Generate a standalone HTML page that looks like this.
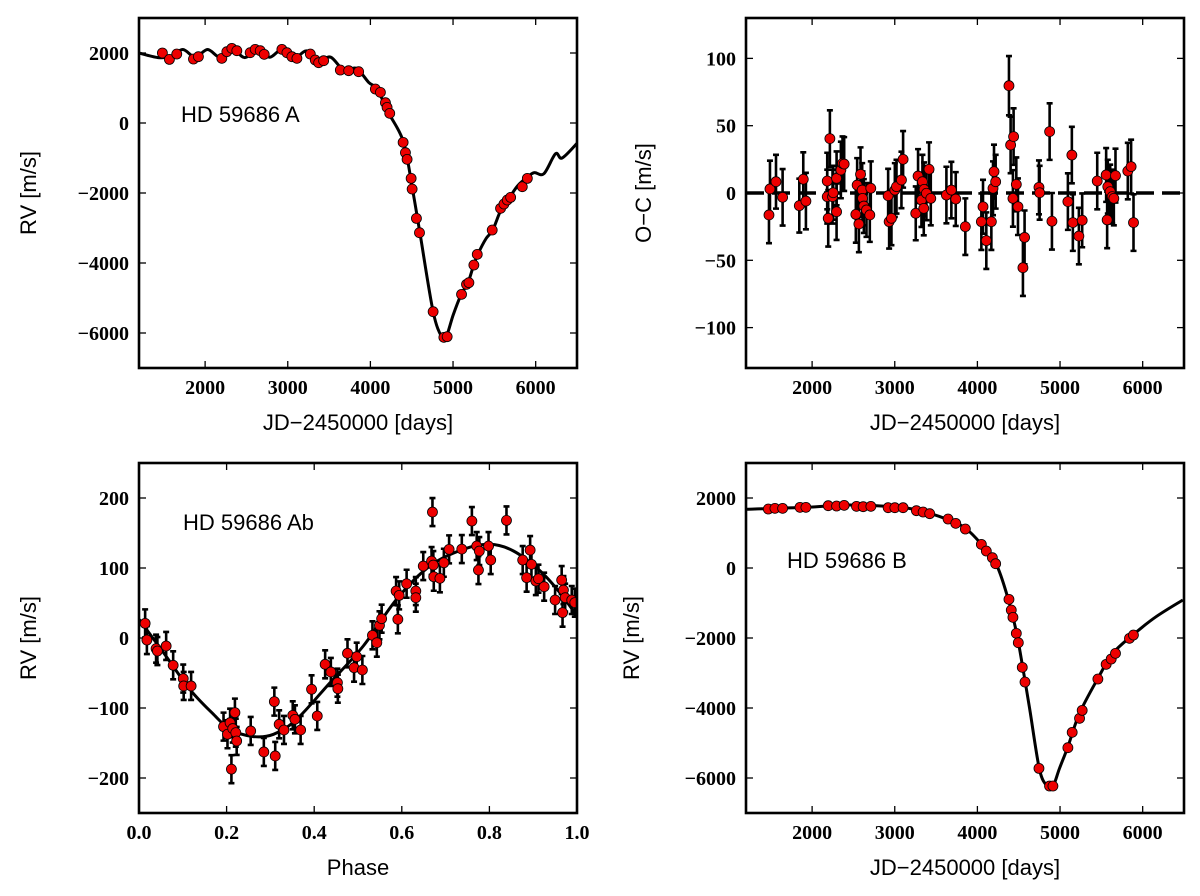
<!DOCTYPE html>
<html><head><meta charset="utf-8">
<style>
html,body{margin:0;padding:0;background:#fff;}
svg{display:block;}
.tick{font-family:"Liberation Serif",serif;font-size:20px;font-weight:bold;fill:#000;}
.lab{font-family:"Liberation Sans",sans-serif;font-size:22px;fill:#000;}
</style></head>
<body>
<svg id="fig" width="1200" height="896" viewBox="0 0 1200 896" xmlns="http://www.w3.org/2000/svg"></svg>
<script>
// ---- Panel A (top-left) ----
const aDays = [1483,1568,1657,1859,1919,2202,2263,2323,2384,2545,2606,2667,2715,2929,2990,3050,3111,3273,3333,3374,3434,3636,3737,3858,4060,4121,4182,4202,4234,4396,4424,4444,4493,4505,4557,4594,4759,4889,4929,5103,5163,5192,5252,5293,5474,5575,5616,5656,5697,5838,5899];
const aRV = [2000,1818,1971,1828,1895,1847,2038,2133,2066,2009,2104,2066,1961,2104,2009,1895,1847,1971,1799,1723,1780,1514,1495,1466,971,876,580,447,276,-553,-848,-1039,-1582,-1886,-2725,-3134,-5391,-6124,-6105,-4896,-4610,-4562,-4058,-3753,-3058,-2439,-2315,-2201,-2125,-1820,-1582];
const aModelX = [1200,1430,1580,1730,1880,2030,2180,2330,2480,2630,2780,2930,3080,3230,3380,3520,3680,3830,3980,4080,4220,4400,4510,4600,4760,4870,4920,5000,5100,5180,5250,5300,5400,5480,5580,5680,5780,5880,5980,6100,6240,6320,6500];
const aModelY = [2000,1870,1900,2100,1880,2100,1880,2110,1870,2110,1880,2100,1860,2060,1780,1880,1500,1560,1160,970,290,-540,-1890,-3150,-5400,-6140,-6100,-5500,-4890,-4570,-4060,-3750,-3300,-3060,-2480,-2140,-1800,-1580,-1420,-1450,-880,-1000,-580];
// ---- Panel O-C (top-right) ----
const ocDays = [1478,1490,1563,1643,1845,1893,1925,2183,2183,2195,2215,2247,2255,2296,2296,2348,2368,2388,2529,2545,2566,2586,2606,2610,2626,2658,2698,2710,2920,2932,2960,3001,3021,3081,3101,3254,3282,3323,3335,3351,3355,3383,3415,3436,3625,3685,3738,3854,4048,4068,4108,4169,4189,4201,4221,4382,4402,4430,4438,4471,4491,4551,4571,4745,4753,4874,4902,5095,5143,5155,5228,5268,5450,5558,5570,5578,5607,5631,5651,5671,5820,5860,5889];
const ocVal = [-16.3,3.0,8.4,-3.2,-9.4,10.2,-6.0,8.9,-2.7,-18.8,40.4,-2.7,0.2,10.9,-13.9,17.1,22.0,21.5,-15.9,5.9,-23.0,13.9,2.2,-4.0,-9.7,-12.6,-16.3,3.5,-2.0,-21.3,-18.8,2.2,4.7,9.7,25.0,-15.1,12.6,-5.2,8.4,-11.4,2.7,-0.2,17.6,-4.0,-1.5,2.2,-4.5,-25.0,-21.3,-10.2,-35.4,-21.3,3.5,15.9,8.4,79.7,35.7,-4.0,41.9,6.4,-10.2,-55.5,-33.0,4.2,0.2,45.6,-21.0,-6.4,28.2,-22.0,-32.0,-20.3,8.9,13.4,-20.0,4.7,1.0,-2.7,-4.0,12.9,16.3,19.6,-22.0];
const ocErr = [21,21,20,21,20,20,21,21,20,21,21,20,20,20,21,21,20,20,21,20,21,20,20,20,20,20,20,20,20,20,20,20,20,21,21,20,20,20,20,20,20,20,20,20,21,21,20,21,21,20,21,21,20,20,20,22,21,21,21,20,21,21,20,20,20,21,21,21,21,21,21,20,21,20,21,20,20,20,20,20,21,20,21];
// ---- Panel Ab phase (bottom-left) ----
const phX = [0.014,0.018,0.039,0.042,0.062,0.078,0.101,0.102,0.119,0.193,0.202,0.208,0.211,0.214,0.219,0.221,0.223,0.255,0.285,0.309,0.311,0.320,0.331,0.351,0.356,0.369,0.394,0.407,0.425,0.438,0.453,0.454,0.476,0.491,0.497,0.510,0.533,0.543,0.549,0.554,0.587,0.591,0.594,0.611,0.632,0.632,0.649,0.668,0.670,0.672,0.673,0.687,0.696,0.708,0.737,0.760,0.771,0.775,0.777,0.798,0.803,0.839,0.876,0.885,0.893,0.896,0.906,0.912,0.925,0.950,0.965,0.967,0.969,0.973,0.988,0.995];
const phY = [20.9,-2.9,-15.2,-18.6,-11.4,-39.0,-58.0,-68.5,-68.5,-126.6,-137.5,-121.0,-187.4,-129.4,-106.6,-135.2,-147.1,-132.8,-162.8,-90.9,-168.5,-123.3,-131.4,-110.5,-116.2,-131.4,-73.3,-111.4,-37.6,-48.5,-63.8,-72.4,-21.9,-42.4,-26.7,-45.7,3.8,-6.7,18.1,27.6,67.1,26.7,60.9,77.5,67.1,57.6,102.8,109.9,179.9,104.2,87.5,85.2,107.5,126.6,127.0,167.1,131.4,97.1,124.2,131.4,111.4,168.0,111.4,86.2,125.6,105.2,81.4,84.7,73.3,54.3,82.8,36.2,68.5,57.6,54.3,50.5];
const phErr = 20;
const phModelX = [0,0.056,0.116,0.170,0.208,0.261,0.307,0.360,0.436,0.512,0.588,0.664,0.740,0.801,0.855,0.916,0.961,1.0];
const phModelY = [26.7,-20.9,-73.3,-109,-130.4,-140.8,-137.5,-116.2,-63.8,-11.4,55.2,102.8,126.6,133.8,124.3,95.7,64.7,31.4];
// ---- Panel B (bottom-right) ----
const bDays = [1470,1550,1643,1853,1925,2195,2296,2388,2537,2618,2711,2920,3001,3101,3262,3343,3423,3645,3738,3854,4048,4108,4181,4221,4382,4410,4430,4471,4495,4543,4576,4745,4873,4914,5095,5147,5236,5268,5458,5558,5619,5671,5840,5888];
const bRV = [1685,1704,1704,1733,1733,1780,1771,1790,1761,1752,1761,1723,1723,1723,1638,1599,1552,1399,1276,1114,676,485,295,123,-896,-1201,-1410,-1867,-2134,-2839,-3258,-5725,-6229,-6229,-5134,-4696,-4296,-4068,-3172,-2753,-2600,-2439,-2010,-1915];
const bModelX = [1196,1933,2457,3061,3383,3706,3867,4028,4229,4370,4471,4551,4632,4753,4853,4914,4994,5095,5236,5458,5639,5881,6162,6485];
const bModelY = [1676,1733,1799,1733,1590,1323,1114,733,104,-867,-1820,-2867,-4010,-5772,-6248,-6248,-5725,-5105,-4153,-3153,-2439,-1915,-1391,-915];

// tick arrays
const dayTicks = [2000,3000,4000,5000,6000];
const rvTicks = [2000,0,-2000,-4000,-6000];
const ocTicks = [100,50,0,-50,-100];
const phTicksX = [0.0,0.2,0.4,0.6,0.8,1.0];
const phTicksY = [200,100,0,-100,-200];

const NS = 'http://www.w3.org/2000/svg';
const svg = document.getElementById('fig');
function mk(tag, attrs, parent){
  const e = document.createElementNS(NS, tag);
  for (const k in attrs) e.setAttribute(k, attrs[k]);
  (parent||svg).appendChild(e);
  return e;
}
function fmt(v){ const s = Number.isInteger(v) ? String(Math.abs(v)) : Math.abs(v).toFixed(1); return (v<0?'\u2212':'')+s; }
function panel(name, L, T, R, B, x0, x1, y0, y1, xt, yt, xlab, ylab, ylabX, phaseFmt){
  const g = mk('g', {});
  
  
  const sx = v => L + (v - x0) / (x1 - x0) * (R - L);
  const sy = v => B - (v - y0) / (y1 - y0) * (B - T);
  xt.forEach(v => {
    const x = sx(v);
    const t1 = mk('line', {x1:x, y1:B, x2:x, y2:B-7, stroke:'#000','stroke-width':1.3}, g);
    
    
    mk('line', {x1:x, y1:T, x2:x, y2:T+7, stroke:'#000','stroke-width':1.3}, g);
    const tx = mk('text', {x:x, y:B+26, 'text-anchor':'middle', class:'tick'}, g);
    
    
    tx.textContent = phaseFmt ? (v<0?'\u2212':'')+Math.abs(v).toFixed(1) : fmt(v);
  });
  yt.forEach(v => {
    const y = sy(v);
    const t1 = mk('line', {x1:L, y1:y, x2:L+7, y2:y, stroke:'#000','stroke-width':1.3}, g);
    
    
    mk('line', {x1:R, y1:y, x2:R-7, y2:y, stroke:'#000','stroke-width':1.3}, g);
    const tx = mk('text', {x:L-10, y:y+7, 'text-anchor':'end', class:'tick'}, g);
    
    
    tx.textContent = fmt(v);
  });
  const xl = mk('text', {x:(L+R)/2, y:B+62, 'text-anchor':'middle', class:'lab'}, g);
  
  
  xl.textContent = xlab;
  const yl = mk('text', {x:ylabX, y:(T+B)/2, 'text-anchor':'middle', class:'lab', transform:'rotate(-90 '+ylabX+' '+(T+B)/2+')'}, g);
  
  
  yl.textContent = ylab;
  const clip = mk('clipPath', {id:'clip-'+name}, g);
  mk('rect', {x:L, y:T, width:R-L, height:B-T}, clip);
  const plot = mk('g', {'clip-path':'url(#clip-'+name+')'}, g);
  
  
  return {g, plot, sx, sy, L, T, R, B};
}
function frame(p){
  const f = mk('rect', {x:p.L, y:p.T, width:p.R-p.L, height:p.B-p.T, fill:'none', stroke:'#000', 'stroke-width':2.6}, p.g);
  
  
}
function curve(p, xs, ys){
  const P = xs.map((x,i)=>[p.sx(x), p.sy(ys[i])]);
  let d = 'M'+P[0][0].toFixed(1)+' '+P[0][1].toFixed(1);
  for (let i=0;i<P.length-1;i++){
    const p0 = P[Math.max(0,i-1)], p1 = P[i], p2 = P[i+1], p3 = P[Math.min(P.length-1,i+2)];
    const c1 = [p1[0]+(p2[0]-p0[0])/6, p1[1]+(p2[1]-p0[1])/6];
    const c2 = [p2[0]-(p3[0]-p1[0])/6, p2[1]-(p3[1]-p1[1])/6];
    d += ` C${c1[0].toFixed(1)} ${c1[1].toFixed(1)} ${c2[0].toFixed(1)} ${c2[1].toFixed(1)} ${p2[0].toFixed(1)} ${p2[1].toFixed(1)}`;
  }
  const c = mk('path', {d:d, fill:'none', stroke:'#000', 'stroke-width':3, 'stroke-linejoin':'round'}, p.plot);
  
  
}
function errbars(p, xs, ys, errs){
  xs.forEach((x,i)=>{
    const e = Array.isArray(errs)?errs[i]:errs;
    const X = p.sx(x), y1 = p.sy(ys[i]+e), y2 = p.sy(ys[i]-e);
    const b = mk('path', {d:`M${X} ${y1} L${X} ${y2} M${X-3} ${y1} L${X+3} ${y1} M${X-3} ${y2} L${X+3} ${y2}`, stroke:'#000', 'stroke-width':2.6, fill:'none'}, p.plot);
    
    
  });
}
function points(p, xs, ys){
  xs.forEach((x,i)=>{
    const c = mk('circle', {cx:p.sx(x), cy:p.sy(ys[i]), r:5, fill:'#ee0000', stroke:'#000', 'stroke-width':0.8}, p.plot);
    
    
  });
}
function label(p, x, y, txt, name){
  const t = mk('text', {x:x, y:y, class:'lab'}, p.g);
  
  
  t.textContent = txt;
}

const pA = panel('panel-hd59686-a', 139, 18, 577, 368, 1200, 6500, -7000, 3000, dayTicks, rvTicks, 'JD\u22122450000 [days]', 'RV [m/s]', 36, false);
curve(pA, aModelX, aModelY);
points(pA, aDays, aRV);
label(pA, 181, 122, 'HD 59686 A', 'panel-label-a');
frame(pA);

const pC = panel('panel-o-minus-c', 746, 18, 1184, 368, 1200, 6500, -130, 130, dayTicks, ocTicks, 'JD\u22122450000 [days]', 'O\u2212C [m/s]', 651, false);
const zl = mk('line', {x1:746, y1:pC.sy(0), x2:1184, y2:pC.sy(0), stroke:'#000', 'stroke-width':3.5, 'stroke-dasharray':'18 8'}, pC.plot);


errbars(pC, ocDays, ocVal, ocErr);
points(pC, ocDays, ocVal);
frame(pC);

const pP = panel('panel-hd59686-ab', 139, 463, 577, 813, 0, 1, -250, 250, phTicksX, phTicksY, 'Phase', 'RV [m/s]', 36, true);
curve(pP, phModelX, phModelY);
errbars(pP, phX, phY, phErr);
points(pP, phX, phY);
label(pP, 183, 530, 'HD 59686 Ab', 'panel-label-ab');
frame(pP);

const pB = panel('panel-hd59686-b', 746, 463, 1184, 813, 1200, 6500, -7000, 3000, dayTicks, rvTicks, 'JD\u22122450000 [days]', 'RV [m/s]', 639, false);
curve(pB, bModelX, bModelY);
points(pB, bDays, bRV);
label(pB, 787, 568, 'HD 59686 B', 'panel-label-b');
frame(pB);
</script>
</body></html>
